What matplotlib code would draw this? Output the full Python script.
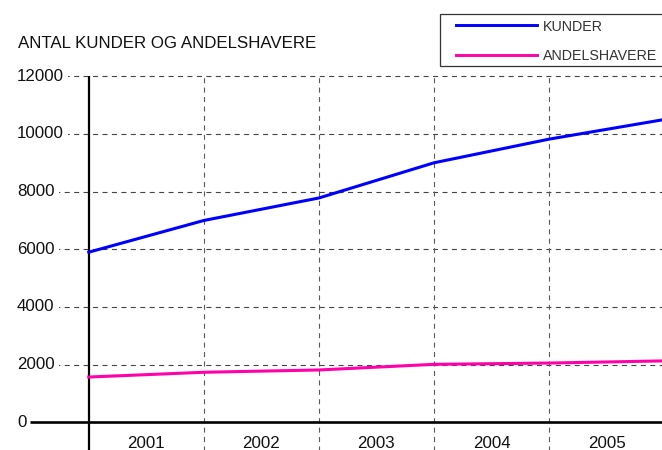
import matplotlib
matplotlib.use("Agg")
import matplotlib.pyplot as plt
from matplotlib.lines import Line2D
from matplotlib.patches import Rectangle

# ---- data ----
years = ["2001", "2002", "2003", "2004", "2005"]
period_points = [0, 1, 2, 3, 4, 5]
kunder = [5900, 7000, 7780, 9000, 9820, 10500]
andelshavere = [1570, 1735, 1815, 2010, 2055, 2130]
series_names = ["KUNDER", "ANDELSHAVERE"]
series_colors = ["#0000ff", "#ff00aa"]
yticks = [0, 2000, 4000, 6000, 8000, 10000, 12000]
title = "ANTAL KUNDER OG ANDELSHAVERE"

W, H = 662, 450
plt.rcParams['font.family'] = ['Liberation Sans', 'DejaVu Sans']
fig = plt.figure(figsize=(W / 100, H / 100), dpi=100)
ax = fig.add_axes([0, 0, 1, 1])
ax.set_axis_off()

# pixel mapping (layout only)
x0_px, xstep_px = 88.8, 115.05
y0_px, ypx_per_unit = 422.3, 0.028833

def xd(px):
    return (px - x0_px) / xstep_px

def yd(py):
    return (y0_px - py) / ypx_per_unit

ax.set_xlim(xd(0), xd(W))
ax.set_ylim(yd(H), yd(0))

dash = (4.5, 4.0)
# horizontal grid
for t in yticks[1:]:
    ax.plot([xd(17), xd(W + 5)], [t, t], color="#444444", lw=0.8,
            dashes=dash, zorder=1)
# vertical grid
for p in period_points[1:]:
    ax.plot([p, p], [yd(H + 5), yticks[-1]], color="#5a5a5a", lw=0.8,
            dashes=dash, zorder=1)

# axes lines
ax.plot([xd(30), xd(W + 5)], [0, 0], color="black", lw=1.9, zorder=3,
        solid_capstyle='butt')
ax.plot([0, 0], [yd(H + 5), yticks[-1]], color="black", lw=1.6, zorder=3,
        solid_capstyle='butt')

# data lines
for vals, col in zip([kunder, andelshavere], series_colors):
    ax.plot(period_points, vals, color=col, lw=2.2, zorder=4,
            solid_joinstyle='round')

# y tick labels
for t in yticks:
    ax.text(xd(17), t, str(t), ha="left", va="center", fontsize=12.2,
            color="#111111", zorder=2,
            bbox=dict(boxstyle="square,pad=0.25", fc="white", ec="none"))

# x category labels
for i, y in enumerate(years):
    ax.text(i + 0.5, yd(443), y, ha="center", va="center", fontsize=12.2,
            color="#111111", zorder=2)

# title
fig.text(17.5 / W, 1 - 47.5 / H, title, ha="left", va="baseline",
         fontsize=12.2, color="#111111")

# legend (manual)
fig.add_artist(Rectangle((440 / W, 1 - 66 / H), (235) / W, (66 - 14.5) / H,
                         transform=fig.transFigure, fc="white",
                         ec="#333333", lw=0.9, zorder=5))
leg_rows = [25, 54.5]
for name, col, ry in zip(series_names, series_colors, leg_rows):
    fig.add_artist(Line2D([456 / W, 537 / W], [1 - ry / H, 1 - ry / H],
                          transform=fig.transFigure, color=col, lw=2.1,
                          zorder=6))
    fig.text(543 / W, 1 - (ry + 6.0) / H, name, ha="left", va="baseline",
             fontsize=10.3, color="#333333", zorder=6)

fig.savefig("out.png", dpi=100)
